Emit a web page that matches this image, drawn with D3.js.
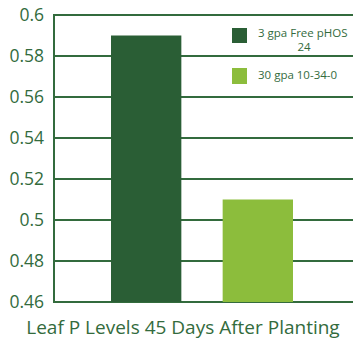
<!DOCTYPE html>
<html><head><meta charset="utf-8">
<script src="https://cdn.jsdelivr.net/npm/d3@7"></script>
<style>body{margin:0;background:#fff}svg{display:block}</style>
</head><body>
<svg id="c" width="353" height="339"></svg>
<script>
const categories = ["3 gpa Free pHOS 24", "30 gpa 10-34-0"];
const values = [0.59, 0.51];
const colors = ["#2a5e35", "#8cbd3c"];
const ticks = [0.46, 0.48, 0.5, 0.52, 0.54, 0.56, 0.58, 0.6];
const title = "Leaf P Levels 45 Days After Planting";

(function () {
const svg = d3.select("#c");
const pLeft = 54, pRight = 353, pTop = 15, pBottom = 302;
const green = "#336b3d";
const font = "'Open Sans', sans-serif";

const y = d3.scaleLinear().domain([0.46, 0.6]).range([pBottom, pTop]);
const x = d3.scaleBand().domain(categories).range([111, 293]).paddingInner(0.37).paddingOuter(0);

// gridlines
svg.append("g").selectAll("line").data(ticks).join("line")
  .attr("x1", pLeft).attr("x2", pRight)
  .attr("y1", d => y(d)).attr("y2", d => y(d))
  .attr("stroke", green).attr("stroke-width", 2);
svg.append("line").attr("x1", pLeft).attr("x2", pLeft).attr("y1", y(0.6) - 1).attr("y2", y(0.46) + 1)
  .attr("stroke", green).attr("stroke-width", 2);

// axis labels
const yAxis = d3.axisLeft(y).tickValues(ticks).tickSize(0).tickPadding(10).tickFormat(d => String(+d.toFixed(2)));
const ag = svg.append("g").attr("transform", `translate(${pLeft},0)`).call(yAxis);
ag.select(".domain").remove();
ag.selectAll("text").attr("font-family", font).attr("font-size", 17.5).attr("fill", green);

// bars
svg.append("g").selectAll("rect").data(categories).join("rect")
  .attr("x", d => x(d)).attr("width", x.bandwidth())
  .attr("y", (d, i) => y(values[i])).attr("height", (d, i) => y(0.46) - y(values[i]))
  .attr("fill", (d, i) => colors[i]);

// legend
const lg = svg.append("g");
lg.append("rect").attr("x", 232).attr("y", 28).attr("width", 15).attr("height", 15).attr("fill", colors[0]);
lg.append("text").attr("x", 258).attr("y", 37)
  .attr("font-family", font).attr("font-size", 11.5).attr("fill", green).text("3 gpa Free pHOS");
lg.append("text").attr("x", 304).attr("y", 51).attr("text-anchor", "middle")
  .attr("font-family", font).attr("font-size", 11.5).attr("fill", green).text("24");
lg.append("rect").attr("x", 232).attr("y", 68).attr("width", 15).attr("height", 16).attr("fill", colors[1]);
lg.append("text").attr("x", 258).attr("y", 79).attr("font-family", font).attr("font-size", 11.5)
  .attr("fill", green).text("30 gpa 10-34-0");

// title
svg.append("text").attr("x", 183).attr("y", 333.5).attr("text-anchor", "middle")
  .attr("font-family", font).attr("font-size", 19).attr("fill", green).text(title);
})();
</script>
</body></html>
